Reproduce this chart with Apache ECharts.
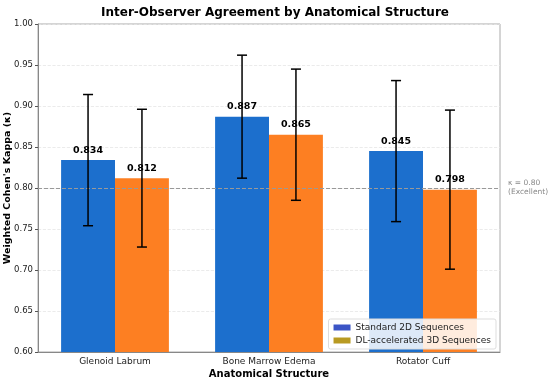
<!DOCTYPE html>
<html>
<head>
<meta charset="utf-8">
<script src="https://cdn.jsdelivr.net/npm/echarts@6/dist/echarts.min.js"></script>
<style>html,body{margin:0;padding:0;background:#fff}#c{width:550px;height:381px}</style>
</head>
<body>
<div id="c"></div>
<script>
const categories = ['Glenoid Labrum', 'Bone Marrow Edema', 'Rotator Cuff'];
const standard2D = [0.834, 0.887, 0.845];
const standard2DErr = [0.080, 0.075, 0.086];
const dl3D = [0.812, 0.865, 0.798];
const dl3DErr = [0.084, 0.080, 0.097];
const yTicks = [0.60, 0.65, 0.70, 0.75, 0.80, 0.85, 0.90, 0.95, 1.00];
const threshold = 0.80;

const FONT = 'DejaVu Sans';
const chart = echarts.init(document.getElementById('c'));

function errSeries(vals, errs, side) {
  return {
    type: 'custom',
    z: 10,
    silent: true,
    data: vals.map((v, i) => [i, v - errs[i], v + errs[i]]),
    renderItem: function (params, api) {
      const i = api.value(0);
      const band = api.size([1, 0])[0];
      const off = side * band * 0.175;
      const lo = api.coord([i, api.value(1)]);
      const hi = api.coord([i, api.value(2)]);
      const x = lo[0] + off;
      const cap = 5;
      const st = { stroke: '#000', lineWidth: 1.5 };
      return {
        type: 'group',
        children: [
          { type: 'line', shape: { x1: x, y1: lo[1], x2: x, y2: hi[1] }, style: st },
          { type: 'line', shape: { x1: x - cap, y1: lo[1], x2: x + cap, y2: lo[1] }, style: st },
          { type: 'line', shape: { x1: x - cap, y1: hi[1], x2: x + cap, y2: hi[1] }, style: st }
        ]
      };
    }
  };
}

chart.setOption({
  animation: false,
  textStyle: { fontFamily: FONT },
  title: {
    text: 'Inter-Observer Agreement by Anatomical Structure',
    left: 'center', top: 2,
    textStyle: { fontFamily: FONT, fontSize: 12, fontWeight: 'bold', color: '#000' }
  },
  grid: {
    left: 38, right: 50, top: 24, bottom: 29,
    outerBoundsMode: 'none',
    containLabel: false,
    show: true, borderColor: '#aaa', borderWidth: 1
  },
  legend: {
    right: 54, bottom: 32,
    orient: 'vertical',
    backgroundColor: 'rgba(255,255,255,0.85)',
    borderColor: '#ddd', borderWidth: 1, borderRadius: 2,
    padding: [4, 5, 4, 5],
    itemGap: 4, itemWidth: 17, itemHeight: 6,
    textStyle: { fontFamily: FONT, fontSize: 9, color: '#222' },
    data: [
      { name: 'Standard 2D Sequences', icon: 'rect', itemStyle: { color: '#3b55c6' } },
      { name: 'DL-accelerated 3D Sequences', icon: 'rect', itemStyle: { color: '#b89a22' } }
    ]
  },
  xAxis: {
    type: 'category',
    data: categories,
    name: 'Anatomical Structure',
    nameLocation: 'middle', nameGap: 17,
    nameMoveOverlap: false,
    nameTextStyle: { fontFamily: FONT, fontSize: 10, fontWeight: 'bold', color: '#000' },
    axisLine: { lineStyle: { color: '#888' } },
    axisTick: { alignWithLabel: true, length: 3, lineStyle: { color: '#555' } },
    axisLabel: { fontFamily: FONT, fontSize: 9, color: '#222', margin: 5 }
  },
  yAxis: {
    type: 'value',
    min: 0.60, max: 1.00, interval: 0.05,
    name: "Weighted Cohen's Kappa (κ)",
    nameLocation: 'middle', nameGap: 25,
    nameMoveOverlap: false,
    nameTextStyle: { fontFamily: FONT, fontSize: 9.5, fontWeight: 'bold', color: '#000' },
    axisLine: { show: true, lineStyle: { color: '#888' } },
    axisTick: { show: true, length: 3, lineStyle: { color: '#555' } },
    axisLabel: {
      fontFamily: FONT, fontSize: 8.5, color: '#222', margin: 5,
      formatter: v => { const t = yTicks.find(x => Math.abs(x - v) < 1e-6); return (t !== undefined ? t : v).toFixed(2); }
    },
    splitLine: { show: true, lineStyle: { color: '#e6e6e6', type: 'dashed', width: 0.8 } }
  },
  series: [
    {
      name: 'Standard 2D Sequences',
      type: 'bar',
      data: standard2D,
      barWidth: '35%',
      barGap: '0%',
      itemStyle: { color: '#1c6fcd' },
      label: {
        show: true, position: 'top', distance: 5,
        formatter: p => p.value.toFixed(3),
        fontFamily: FONT, fontSize: 9.5, fontWeight: 'bold', color: '#000'
      },
      markLine: {
        silent: true, symbol: 'none',
        lineStyle: { color: '#999', type: 'dashed', width: 1 },
        label: {
          show: true, position: 'end', distance: 8,
          formatter: 'κ = 0.80\n(Excellent)',
          fontFamily: FONT, fontSize: 7.5, color: '#888', lineHeight: 9, align: 'left'
        },
        data: [{ yAxis: threshold }]
      }
    },
    {
      name: 'DL-accelerated 3D Sequences',
      type: 'bar',
      data: dl3D,
      barWidth: '35%',
      barGap: '0%',
      itemStyle: { color: '#fd7f22' },
      label: {
        show: true, position: 'top', distance: 5,
        formatter: p => p.value.toFixed(3),
        fontFamily: FONT, fontSize: 9.5, fontWeight: 'bold', color: '#000'
      }
    },
    errSeries(standard2D, standard2DErr, -1),
    errSeries(dl3D, dl3DErr, 1)
  ]
});
</script>
</body>
</html>
